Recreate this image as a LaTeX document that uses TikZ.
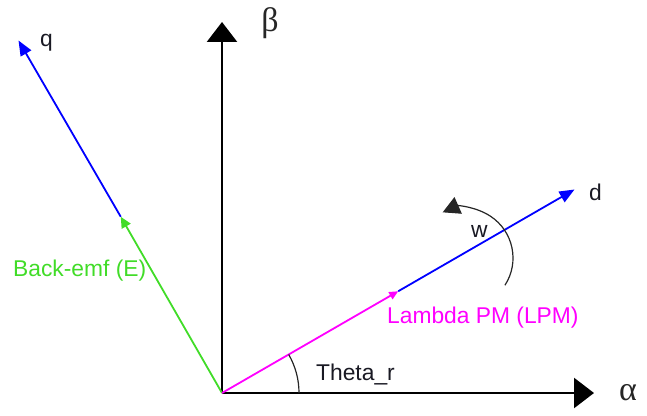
\documentclass[tikz,border=0pt]{standalone}
\usepackage{fontspec}
\setmainfont{Liberation Sans}
\newfontfamily\grk{Liberation Serif}
\usetikzlibrary{arrows.meta}
\definecolor{vblue}{RGB}{0,0,255}
\definecolor{vgreen}{RGB}{65,220,40}
\definecolor{vmag}{RGB}{255,0,255}
\definecolor{txt}{RGB}{25,25,35}
\begin{document}
\begin{tikzpicture}[x=1pt,y=1pt,
  axis/.style={line width=2.6pt,-{Triangle[length=20pt,width=30pt]}},
  bluevec/.style={vblue,line width=1.8pt,-{Triangle[length=15pt,width=12pt]}},
  greenvec/.style={vgreen,line width=1.8pt,-{Triangle[length=11pt,width=10pt]}},
  magvec/.style={vmag,line width=1.8pt,-{Triangle[length=9pt,width=8pt]}},
  lbl/.style={inner sep=0pt,anchor=base west,font=\fontsize{22.8}{26}\selectfont},
  grklbl/.style={inner sep=0pt,font=\grk\fontsize{34}{38}\selectfont,text=black!85}
]
\useasboundingbox (0,0) rectangle (647,415);
\coordinate (O) at (222,22);
\coordinate (B) at (222,393);
\coordinate (A) at (594,22);
\coordinate (D) at (574.5,225.5);
\coordinate (Dm) at (398.2,123.75);
\coordinate (Q) at (18.5,374.5);
\coordinate (Qm) at (120.75,198.25);
% axes
\draw[axis] (O) -- (B);
\draw[axis] (O) -- (A);
% q axis
\draw[bluevec] (Qm) -- (Q);
\draw[greenvec] (O) -- (Qm);
% d axis
\draw[bluevec] (Dm) -- (D);
\draw[magvec] (O) -- (Dm);
% theta arc
\draw[line width=1.2pt,black!85] (O) ++(77,0) arc[start angle=0,end angle=30,radius=77];
% w arc
\coordinate (C) at (463,157);
\draw[line width=1.2pt,black!85,-{Triangle[length=17pt,width=18pt]}] (C) ++(-33:50) arc[start angle=-33,end angle=114,radius=50];
% labels
\node[lbl,text=txt] (lq) at (40,368) {q};
\node[lbl,text=txt] (ld) at (589,214) {d};
\node[lbl,text=txt] (lw) at (471,177) {w};
\node[lbl,text=vgreen] (le) at (13,139) {Back-emf (E)};
\node[lbl,text=vmag] (ll) at (387,92) {Lambda PM (LPM)};
\node[lbl,text=txt] (lt) at (316,35) {Theta\_r};
\node[grklbl] (lb) at (270,392) {β};
\node[grklbl] (la) at (628,22) {α};
\end{tikzpicture}
\end{document}
